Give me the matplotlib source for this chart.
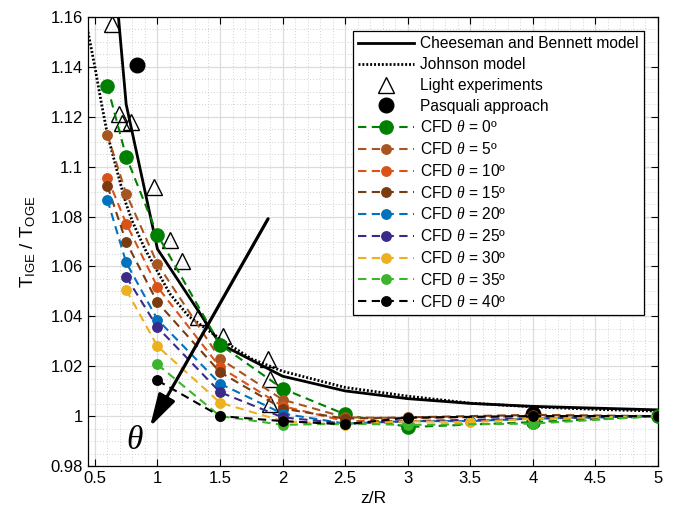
import matplotlib
matplotlib.use('Agg')
import matplotlib.pyplot as plt
from matplotlib.ticker import MultipleLocator, FormatStrFormatter

plt.rcParams['font.family'] = ['Liberation Sans', 'DejaVu Sans']
plt.rcParams['mathtext.fontset'] = 'custom'
plt.rcParams['mathtext.rm'] = 'Liberation Sans'
plt.rcParams['mathtext.it'] = 'Liberation Serif:italic'

# Cheeseman and Bennett model
cb_x = [0.6, 0.75, 1.0, 1.5, 2.0, 2.5, 3.0, 3.5, 4.0, 5.0]
cb_y = [1.210, 1.125, 1.067, 1.029, 1.016, 1.0101, 1.007, 1.0051, 1.0039, 1.0025]

# Johnson model
jo_x = [0.445, 0.5, 0.55, 0.6, 0.7, 0.75, 0.8, 0.9, 1.0, 1.1, 1.25, 1.5, 1.75, 2.0, 2.5, 3.0, 3.5, 4.0, 4.5, 5.0]
jo_y = [1.154, 1.140, 1.126, 1.113, 1.094, 1.085, 1.078, 1.067, 1.058, 1.049, 1.040, 1.031, 1.023, 1.018,
        1.0115, 1.008, 1.0052, 1.0037, 1.0027, 1.002]

# Light experiments
light_x = [0.64, 0.694, 0.713, 0.788, 0.975, 1.10, 1.193, 1.327, 1.527, 1.887, 1.90, 1.90]
light_y = [1.157, 1.121, 1.1176, 1.118, 1.0919, 1.0706, 1.0623, 1.0396, 1.0323, 1.023, 1.015, 1.005]

# Pasquali approach
pasq_x = [0.836, 4.0]
pasq_y = [1.1407, 1.001]

# CFD results
cfd_labels = ['0º', '5º', '10º', '15º', '20º', '25º', '30º', '35º', '40º']
cfd_colors = ['#008000', '#A8551F', '#D95319', '#7A3B10', '#0072BD', '#3A2A8A', '#EDB120', '#3CB42C', '#000000']
cfd_x = [
    [0.6, 0.75, 1.0, 1.5, 2.0, 2.5, 3.0, 4.0, 5.0],
    [0.6, 0.75, 1.0, 1.5, 2.0, 2.5, 3.0, 4.0, 5.0],
    [0.6, 0.75, 1.0, 1.5, 2.0, 2.5, 3.0, 3.5, 4.0, 5.0],
    [0.6, 0.75, 1.0, 1.5, 2.0, 2.5, 3.0, 4.0, 5.0],
    [0.6, 0.75, 1.0, 1.5, 2.0, 2.5, 3.0, 3.5, 4.0, 5.0],
    [0.75, 1.0, 1.5, 2.0, 2.5, 3.0, 4.0, 5.0],
    [0.75, 1.0, 1.5, 2.0, 2.5, 3.0, 3.5, 4.0, 5.0],
    [1.0, 1.5, 2.0, 2.5, 3.0, 4.0, 5.0],
    [1.0, 1.5, 2.0, 2.5, 3.0, 4.0, 5.0],
]
cfd_y = [
    [1.1323, 1.104, 1.0727, 1.0287, 1.011, 1.0007, 0.9956, 0.9976, 1.0],
    [1.1127, 1.0892, 1.061, 1.023, 1.0066, 0.9995, 0.9992, 1.0, 1.0],
    [1.0956, 1.0772, 1.0518, 1.0196, 1.004, 0.998, 0.998, 0.998, 0.999, 1.0],
    [1.0923, 1.0698, 1.0456, 1.0176, 1.003, 0.999, 0.9995, 1.0005, 1.0],
    [1.0867, 1.0616, 1.0387, 1.013, 1.001, 0.997, 0.998, 0.998, 0.999, 1.0],
    [1.0559, 1.0356, 1.0096, 0.9995, 0.997, 0.998, 0.999, 1.0],
    [1.0506, 1.028, 1.0054, 0.998, 0.9965, 0.998, 0.9975, 0.999, 1.0],
    [1.0207, 1.0, 0.9965, 0.997, 0.9965, 0.997, 1.0],
    [1.0143, 1.0, 0.998, 0.9967, 0.9994, 1.0, 1.0],
]

fig = plt.figure(figsize=(6.76, 5.18), dpi=100)
ax = fig.add_axes([88/676, 1-466/518, (658-88)/676, (466-17)/518])

ax.plot(cb_x, cb_y, '-', color='k', lw=2, label='Cheeseman and Bennett model', zorder=3)
ax.plot(jo_x, jo_y, color='k', lw=2, dashes=(0.7, 0.7), label='Johnson model', zorder=3)
ax.plot(light_x, light_y, '^', ms=12, mfc='none', mec='k', mew=1, label='Light experiments', zorder=4)
ax.plot(pasq_x, pasq_y, 'o', ms=10.5, color='k', label='Pasquali approach', zorder=4)

for i, lab in enumerate(cfd_labels):
    ms = 9.5 if i == 0 else 6.8
    ax.plot(cfd_x[i], cfd_y[i], 'o', color=cfd_colors[i], ls='--', dashes=(4, 2.6), lw=1.5,
            ms=ms, label='CFD $\\theta$ = ' + lab, zorder=5 + i)

ax.annotate('', xy=(0.94, 0.9957), xytext=(1.884, 1.0791),
            arrowprops=dict(arrowstyle='-|>,head_length=1.0,head_width=0.28', lw=2.3, color='k',
                            mutation_scale=20, shrinkA=0, shrinkB=0), zorder=20)
ax.text(0.82, 0.9903, '$\\theta$', fontsize=24, ha='center', va='center', zorder=20)

ax.set_xlim(0.445, 5)
ax.set_ylim(0.98, 1.16)
ax.xaxis.set_major_locator(MultipleLocator(0.5))
ax.xaxis.set_minor_locator(MultipleLocator(0.1))
ax.yaxis.set_major_locator(MultipleLocator(0.02))
ax.yaxis.set_minor_locator(MultipleLocator(0.005))
ax.xaxis.set_major_formatter(FormatStrFormatter('%g'))
ax.yaxis.set_major_formatter(FormatStrFormatter('%g'))
ax.grid(which='major', color='#dcdcdc', lw=0.9, ls='-')
ax.grid(which='minor', color='#c4c4c4', lw=0.6, ls=(0, (1, 2.5)))
ax.set_axisbelow(True)
ax.tick_params(which='major', direction='in', length=5, width=0.8, top=True, right=True, labelsize=12)
ax.tick_params(which='minor', length=0)
for s in ax.spines.values():
    s.set_linewidth(0.9)

ax.set_xlabel('z/R', fontsize=12.5, labelpad=4)
ax.set_ylabel('T$_{\\rm IGE}$ / T$_{\\rm OGE}$', fontsize=13.5, labelpad=9)

leg = ax.legend(loc='upper right', bbox_to_anchor=(644/676, 1-31/518), bbox_transform=fig.transFigure,
                borderaxespad=0, fontsize=11.2, fancybox=False, framealpha=1, edgecolor='k',
                handlelength=3.6, handletextpad=0.35, labelspacing=0.37, borderpad=0.35)
leg.get_frame().set_linewidth(0.9)
leg.set_zorder(30)

fig.savefig('out.png', dpi=100)
